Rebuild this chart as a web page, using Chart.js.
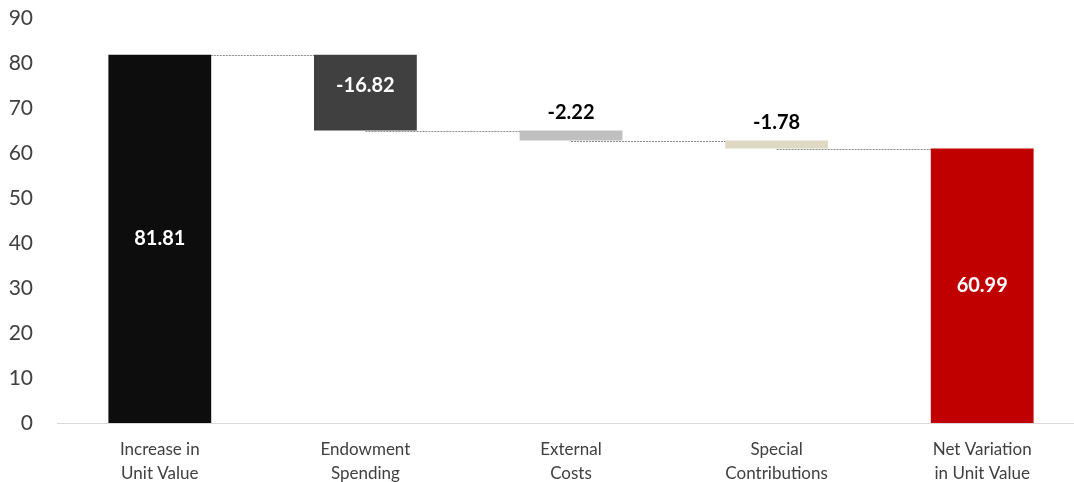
<!doctype html>
<html>
<head>
<meta charset="UTF-8">
<title>Waterfall</title>
<script src="https://cdn.jsdelivr.net/npm/chart.js@4/dist/chart.umd.min.js"></script>
<style>
  body { margin: 0; overflow: hidden; background: #fff; }
</style>
</head>
<body>
<canvas id="canvas" width="1085" height="482"></canvas>
<script>
var categories = [["Increase in", "Unit Value"], ["Endowment", "Spending"], ["External", "Costs"], ["Special", "Contributions"], ["Net Variation", "in Unit Value"]];
var changes = [81.81, -16.82, -2.22, -1.78, 60.99];
var isTotal = [true, false, false, false, true];
var yTicks = [0, 10, 20, 30, 40, 50, 60, 70, 80, 90];

var barColors = ["#0d0d0d", "#404040", "#bfbfbf", "#ddd9c3", "#c00000"];
var labelInside = [true, true, false, false, true];

// floating ranges for the waterfall
var ranges = [], levels = [];
var run = 0;
for (var i = 0; i < changes.length; i++) {
	if (isTotal[i]) {
		ranges.push([0, changes[i]]);
		run = changes[i];
	} else {
		ranges.push([run + changes[i], run]);
		run = run + changes[i];
	}
	levels.push(run);
}

var connectors = {
	id: "connectors",
	beforeDatasetsDraw: function(chart) {
		var ctx = chart.ctx, meta = chart.getDatasetMeta(0), y = chart.scales.y;
		ctx.save();
		ctx.strokeStyle = "#8c8c8c";
		ctx.lineWidth = 1;
		ctx.setLineDash([2, 1]);
		for (var i = 0; i < levels.length - 1; i++) {
			var py = Math.round(y.getPixelForValue(levels[i])) + 0.5;
			ctx.beginPath();
			ctx.moveTo(meta.data[i].x, py);
			ctx.lineTo(meta.data[i + 1].x, py);
			ctx.stroke();
		}
		ctx.restore();
	}
};

var valueLabels = {
	id: "valueLabels",
	afterDatasetsDraw: function(chart) {
		var ctx = chart.ctx, meta = chart.getDatasetMeta(0), y = chart.scales.y;
		ctx.save();
		ctx.font = "bold 20px Lato";
		ctx.textAlign = "center";
		for (var i = 0; i < changes.length; i++) {
			var bar = meta.data[i];
			var txt = changes[i].toFixed(2);
			if (labelInside[i]) {
				ctx.fillStyle = "#ffffff";
				ctx.textBaseline = "middle";
				var mid = (ranges[i][0] + ranges[i][1]) / 2;
				var py = y.getPixelForValue(mid);
				if (!isTotal[i]) py -= 7;
				ctx.fillText(txt, bar.x, py);
			} else {
				ctx.fillStyle = "#000000";
				ctx.textBaseline = "bottom";
				ctx.fillText(txt, bar.x, y.getPixelForValue(Math.max(ranges[i][0], ranges[i][1])) - 8);
			}
		}
		ctx.restore();
	}
};

var ctx = document.getElementById("canvas").getContext("2d");
window.myChart = new Chart(ctx, {
	type: "bar",
	data: {
		labels: categories,
		datasets: [{
			data: ranges,
			backgroundColor: barColors,
			borderWidth: 0,
			barPercentage: 0.5,
			categoryPercentage: 1.0
		}]
	},
	options: {
		responsive: false,
		animation: false,
		layout: { padding: { top: 18, left: 0, right: 0, bottom: 0 } },
		plugins: { legend: { display: false }, tooltip: { enabled: false } },
		scales: {
			x: {
				grid: { display: false },
				border: { color: "#d9d9d9", width: 1 },
				ticks: { color: "#404040", font: { family: "Lato", size: 17, lineHeight: 1.42 }, padding: 6, maxRotation: 0 },
				afterFit: function(s) { s.height = 59; s.paddingTop = 0; s.paddingBottom = 0; }
			},
			y: {
				min: 0,
				max: 90,
				afterBuildTicks: function(s) { s.ticks = yTicks.map(function(v) { return { value: v }; }); },
				grid: { display: false },
				border: { display: false },
				ticks: { color: "#404040", font: { family: "Lato", size: 21 }, padding: 16 },
				afterFit: function(s) { s.width = 57; s.paddingTop = 0; s.paddingBottom = 0; }
			}
		}
	},
	plugins: [connectors, valueLabels]
});
</script>
</body>
</html>
